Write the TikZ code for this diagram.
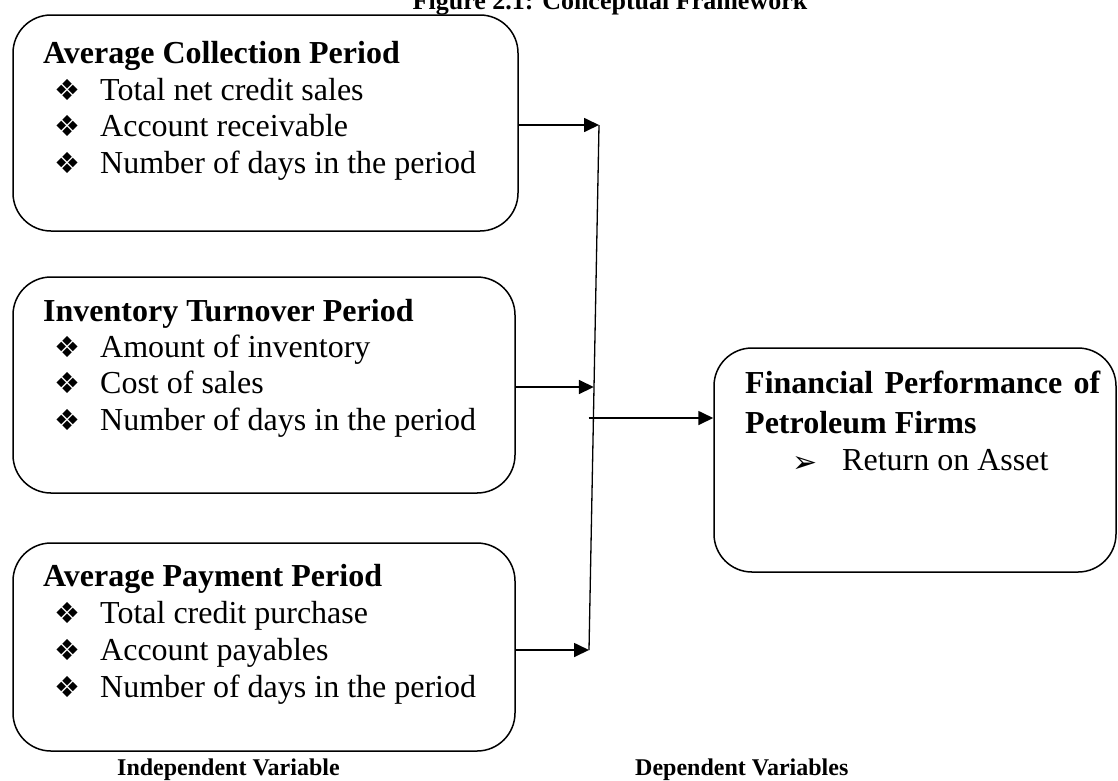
\documentclass[tikz,border=0pt]{standalone}
\usepackage{fontspec}
\setmainfont{Liberation Serif}
\newfontfamily\dvfont{DejaVu Sans}
\usetikzlibrary{arrows.meta}
\begin{document}
\begin{tikzpicture}[x=1pt,y=-1pt,
  box/.style={draw,line width=1.5pt,rounded corners=38pt,inner sep=0pt},
  arr/.style={line width=1.7pt,-{Triangle[length=15pt,width=14pt]}},
  head/.style={anchor=base west,inner sep=0pt,font=\fontsize{32}{38}\selectfont\bfseries},
  item/.style={anchor=base west,inner sep=0pt,font=\fontsize{32}{38}\selectfont},
  bul/.style={anchor=base west,inner sep=0pt,font=\fontsize{29}{34}\selectfont\dvfont},
  foot/.style={anchor=base west,inner sep=0pt,font=\fontsize{24}{28}\selectfont\bfseries}]
\useasboundingbox (0,0) rectangle (1118,780);
% title (clipped at top)
\node[anchor=base,inner sep=0pt,font=\fontsize{26}{30}\selectfont\bfseries] (title) at (610,9) {Figure 2.1: Conceptual Framework};
% boxes
\node[box,minimum width=505pt,minimum height=216pt] (b1) at (265.5,123) {};
\node[box,minimum width=502pt,minimum height=216pt] (b2) at (264,385) {};
\node[box,minimum width=502pt,minimum height=208pt] (b3) at (264,647) {};
\node[box,minimum width=402pt,minimum height=224pt] (b4) at (915,460) {};
% box 1
\node[head] (h1) at (43,63) {Average Collection Period};
\node[bul] (p11) at (54,100) {❖}; \node[item] (t11) at (100,100) {Total net credit sales};
\node[bul] (p12) at (54,136.5) {❖}; \node[item] (t12) at (100,136.5) {Account receivable};
\node[bul] (p13) at (54,173) {❖}; \node[item] (t13) at (100,173) {Number of days in the period};
% box 2
\node[head] (h2) at (43,321) {Inventory Turnover Period};
\node[bul] (p21) at (54,357) {❖}; \node[item] (t21) at (100,357) {Amount of inventory};
\node[bul] (p22) at (54,393.5) {❖}; \node[item] (t22) at (100,393.5) {Cost of sales};
\node[bul] (p23) at (54,430) {❖}; \node[item] (t23) at (100,430) {Number of days in the period};
% box 3
\node[head] (h3) at (43,586) {Average Payment Period};
\node[bul] (p31) at (54,623) {❖}; \node[item] (t31) at (100,623) {Total credit purchase};
\node[bul] (p32) at (54,660) {❖}; \node[item] (t32) at (100,660) {Account payables};
\node[bul] (p33) at (54,697) {❖}; \node[item] (t33) at (100,697) {Number of days in the period};
% box 4
\node[head] (h4a) at (745,393) {\makebox[355pt][s]{Financial Performance of}};
\node[head] (h4b) at (745,433) {Petroleum Firms};
\node[anchor=base west,inner sep=0pt,font=\fontsize{30}{34}\selectfont\dvfont] (p41) at (792,472) {➢};
\node[item] (t41) at (842,470) {Return on Asset};
% footers
\node[foot] (f1) at (117,775) {Independent Variable};
\node[foot] (f2) at (635,775) {Dependent Variables};
% connector line
\coordinate (j1) at (599,125);
\coordinate (j2) at (593.8,387);
\coordinate (j3) at (589,650);
\coordinate (m) at (588.5,418);
\draw[line width=1.3pt] (j1) -- (j3);
\draw[arr] (b1.east |- j1) -- (j1);
\draw[arr] (b2.east |- j2) -- (j2);
\draw[arr] (b3.east |- j3) -- (j3);
\draw[arr] (m) -- (m -| b4.west);
\end{tikzpicture}
\end{document}
